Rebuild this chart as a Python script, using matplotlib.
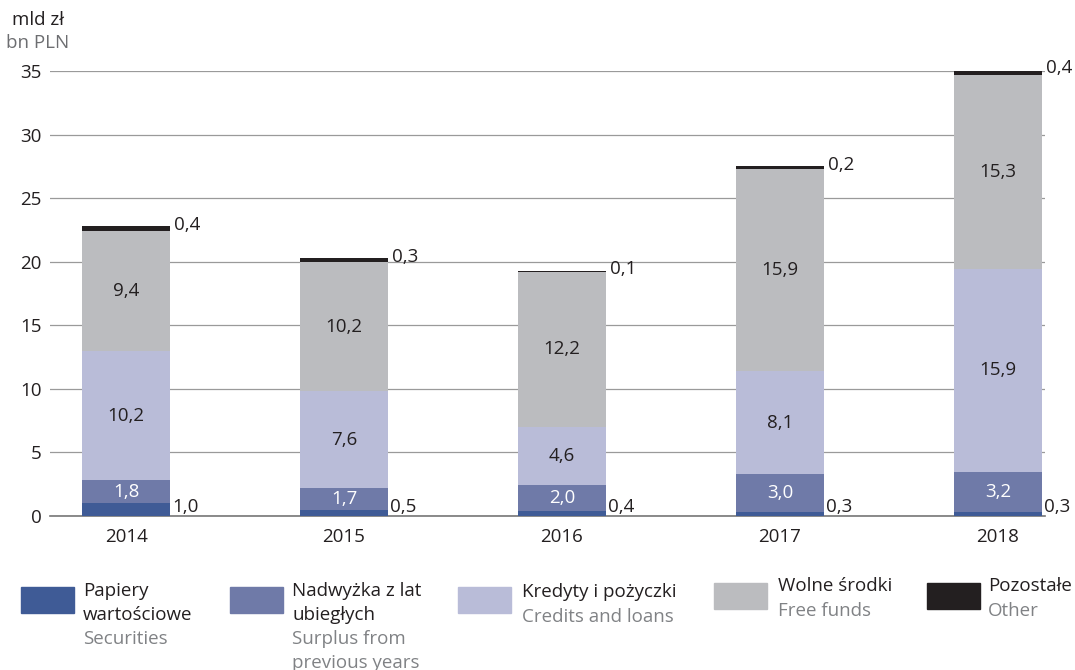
import matplotlib.pyplot as plt
from matplotlib.patches import Rectangle

plt.rcParams['font.family'] = ['Open Sans', 'DejaVu Sans']

# data (bn PLN)
years = ['2014', '2015', '2016', '2017', '2018']
securities = [1.0, 0.5, 0.4, 0.3, 0.3]
surplus = [1.8, 1.7, 2.0, 3.0, 3.2]
credits = [10.2, 7.6, 4.6, 8.1, 15.9]
free_funds = [9.4, 10.2, 12.2, 15.9, 15.3]
other = [0.4, 0.3, 0.1, 0.2, 0.4]

series = [securities, surplus, credits, free_funds, other]
colors = ['#3f5b96', '#6f7aa8', '#b9bcd8', '#bbbcbf', '#231f20']
labels_pl = ['Papiery\nwartościowe', 'Nadwyżka z lat\nubiegłych', 'Kredyty i pożyczki',
             'Wolne środki', 'Pozostałe']
labels_en = ['Securities', 'Surplus from\nprevious years', 'Credits and loans',
             'Free funds', 'Other']

fmt = lambda v: ('%.1f' % v).replace('.', ',')
fs = 13.5

fig = plt.figure(figsize=(10.75, 6.7), dpi=100)
ax = fig.add_axes([50 / 1075, 1 - 516 / 670, 995 / 1075, 445 / 670])

x = list(range(len(years)))
w = 0.40
bottom = [0.0] * len(years)
for k, (vals, c) in enumerate(zip(series, colors)):
    ax.bar(x, vals, w, bottom=bottom, color=c, zorder=3)
    for i, v in enumerate(vals):
        if k == 0:
            ax.text(x[i] + w / 2 + 0.01, 0.0, fmt(v), ha='left', va='bottom',
                    fontsize=fs, color='#231f20')
        elif k == 4:
            ax.text(x[i] + w / 2 + 0.02, bottom[i] + v + 0.1, fmt(v), ha='left', va='center',
                    fontsize=fs, color='#231f20')
        else:
            tc = 'white' if k == 1 else '#231f20'
            ax.text(x[i], bottom[i] + v / 2, fmt(v), ha='center', va='center',
                    fontsize=fs, color=tc, zorder=4)
    bottom = [b + v for b, v in zip(bottom, vals)]

ax.set_xlim(-0.349, 4.216)
ax.set_ylim(0, 35)
ax.set_yticks(range(0, 36, 5))
ax.set_xticks(x)
ax.set_xticklabels(years)
ax.yaxis.grid(True, color='#9a9a9a', linewidth=0.9, zorder=0)
for s in ['left', 'right', 'top']:
    ax.spines[s].set_visible(False)
ax.spines['bottom'].set_color('#777777')
ax.spines['bottom'].set_linewidth(1.2)
ax.tick_params(axis='y', length=0, pad=6, labelsize=fs, labelcolor='#231f20')
ax.tick_params(axis='x', length=0, pad=9, labelsize=fs, labelcolor='#231f20')

fig.text(12 / 1075, 1 - 20 / 670, 'mld zł', fontsize=fs, color='#231f20', va='center')
fig.text(6 / 1075, 1 - 43 / 670, 'bn PLN', fontsize=fs, color='#6d6e71', va='center')

# legend
patch_x = [21, 230, 458, 714, 927]
patch_y = [587, 587, 587, 583, 583]
text_x = [83, 292, 522, 778, 988]
base_y = [596, 596, 597, 591, 591]
step = [24, 24, 25, 25, 25]
for i in range(5):
    fig.patches.append(Rectangle((patch_x[i] / 1075, 1 - (patch_y[i] + 26) / 670),
                                 53 / 1075, 26 / 670,
                                 transform=fig.transFigure, color=colors[i]))
    pl = labels_pl[i].split('\n')
    en = labels_en[i].split('\n')
    lines = [(t, '#231f20') for t in pl] + [(t, '#808285') for t in en]
    for j, (t, c) in enumerate(lines):
        fig.text(text_x[i] / 1075, 1 - (base_y[i] + step[i] * j) / 670, t, fontsize=fs,
                 color=c, va='baseline', ha='left')

fig.savefig('out.png', dpi=100)
